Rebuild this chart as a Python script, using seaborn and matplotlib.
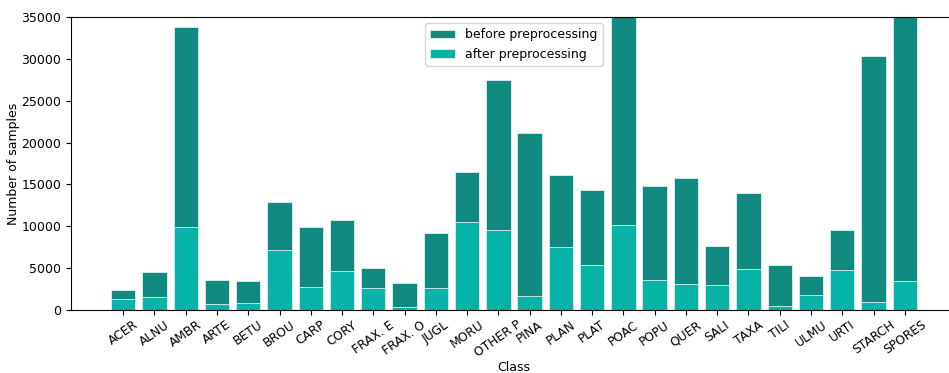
import matplotlib
matplotlib.use("Agg")
import matplotlib.pyplot as plt
import seaborn as sns
import pandas as pd

# Pollen classes and sample counts
classes = ["ACER", "ALNU", "AMBR", "ARTE", "BETU", "BROU", "CARP", "CORY",
           "FRAX. E", "FRAX. O", "JUGL", "MORU", "OTHER P", "PINA", "PLAN",
           "PLAT", "POAC", "POPU", "QUER", "SALI", "TAXA", "TILI", "ULMU",
           "URTI", "STARCH", "SPORES"]
before_counts = [2400, 4550, 33800, 3550, 3470, 12870, 9960, 10800,
                 5020, 3270, 9170, 16540, 27540, 21200, 16100,
                 14390, 39000, 14790, 15780, 7690, 13950, 5420, 4100,
                 9600, 30330, 42000]
after_counts = [1310, 1550, 9920, 720, 800, 7170, 2750, 4660,
                2630, 400, 2630, 10480, 9560, 1670, 7570,
                5380, 10160, 3590, 3070, 2950, 4900, 480, 1830,
                4780, 1000, 3470]

before_color = "#10897f"
after_color = "#07b2a6"

df = pd.DataFrame({"Class": classes, "before": before_counts, "after": after_counts})

fig = plt.figure(figsize=(9.49, 3.73), dpi=100)
ax = fig.add_axes([0.0748, 0.169, 0.9336, 0.785])

sns.barplot(data=df, x="Class", y="before", order=classes, color=before_color,
            saturation=1, width=0.78, edgecolor="#dff0ee", linewidth=0.6,
            label="before preprocessing", ax=ax)
sns.barplot(data=df, x="Class", y="after", order=classes, color=after_color,
            saturation=1, width=0.78, edgecolor="#dff0ee", linewidth=0.6,
            label="after preprocessing", ax=ax)

ax.set_ylim(0, 35000)
ax.set_xlim(-1.67, len(classes) - 1 + 1.67)
ax.set_yticks(range(0, 35001, 5000))
ax.tick_params(axis="y", labelsize=9)
ax.tick_params(axis="x", labelsize=8.8, labelrotation=35, pad=2.5)
for lbl in ax.get_xticklabels():
    lbl.set_ha("center")
ax.set_xlabel("Class", fontsize=9, labelpad=1)
ax.set_ylabel("Number of samples", fontsize=9, labelpad=1)
ax.legend(loc="upper center", fontsize=9)

fig.savefig("out.png", dpi=100)
